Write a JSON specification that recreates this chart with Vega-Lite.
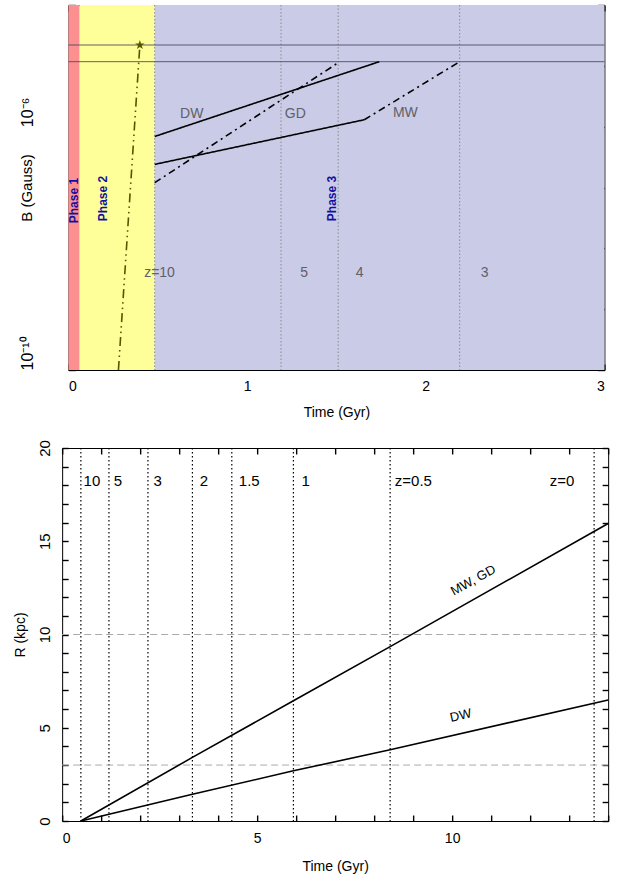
{
  "$schema": "https://vega.github.io/schema/vega-lite/v6.json",
  "padding": {"left": 12, "top": 3, "right": 5, "bottom": 5},
  "config": {
    "view": {"stroke": "black", "strokeWidth": 1},
    "font": "Liberation Sans",
    "axis": {"domain": false, "grid": false, "ticks": true, "zindex": 1, "tickColor": "black", "tickOpacity": 1, "tickWidth": 1.4, "tickSize": 6, "offset": -6, "labelColor": "black", "titleColor": "black", "labelFont": "Liberation Sans", "titleFont": "Liberation Sans", "labelFontSize": 14, "titleFontSize": 14, "titleFontWeight": "normal"}
  },
  "datasets": {
    "bands": [
      {"x": 0, "x2": 0.063, "phase": "p1"},
      {"x": 0.063, "x2": 0.483, "phase": "p2"},
      {"x": 0.483, "x2": 3, "phase": "p3"}
    ],
    "zlinesTop": [{"t": 0.483}, {"t": 1.19}, {"t": 1.51}, {"t": 2.19}],
    "hlinesTop": [{"b": 2.2e-5}, {"b": 1.17e-5}],
    "linesTop": [
      {"t": 0.483, "b": 6.9e-7, "seg": "DW", "series": "gal", "style": "solid"},
      {"t": 1.74, "b": 1.17e-5, "seg": "DW", "series": "gal", "style": "solid"},
      {"t": 0.483, "b": 2.4e-7, "seg": "MW1", "series": "gal", "style": "solid"},
      {"t": 1.656, "b": 1.3e-6, "seg": "MW1", "series": "gal", "style": "solid"},
      {"t": 1.656, "b": 1.3e-6, "seg": "MW2", "series": "gal", "style": "dashdot"},
      {"t": 2.19, "b": 1.17e-5, "seg": "MW2", "series": "gal", "style": "dashdot"},
      {"t": 0.483, "b": 1.2e-7, "seg": "GD", "series": "gal", "style": "dashdot"},
      {"t": 1.505, "b": 1.1e-5, "seg": "GD", "series": "gal", "style": "dashdot"},
      {"t": 0.28, "b": 1e-10, "seg": "P2", "series": "seed", "style": "dashdotdot"},
      {"t": 0.40, "b": 2.2e-5, "seg": "P2", "series": "seed", "style": "dashdotdot"}
    ],
    "starTop": [{"t": 0.40, "b": 2.2e-5}],
    "grayTextTop": [
      {"t": 0.69, "b": 1.63e-6, "label": "DW", "align": "center"},
      {"t": 1.27, "b": 1.63e-6, "label": "GD", "align": "center"},
      {"t": 1.886, "b": 1.7e-6, "label": "MW", "align": "center"},
      {"t": 0.51, "b": 3.9e-9, "label": "z=10", "align": "left"},
      {"t": 1.32, "b": 3.9e-9, "label": "5", "align": "center"},
      {"t": 1.63, "b": 3.9e-9, "label": "4", "align": "center"},
      {"t": 2.33, "b": 3.9e-9, "label": "3", "align": "center"}
    ],
    "phaseText": [
      {"t": 0.03, "b": 6.1e-8, "label": "Phase 1"},
      {"t": 0.196, "b": 6.6e-8, "label": "Phase 2"},
      {"t": 1.477, "b": 6.6e-8, "label": "Phase 3"}
    ],
    "zlinesBot": [{"t": 0.48}, {"t": 1.2}, {"t": 2.2}, {"t": 3.34}, {"t": 4.35}, {"t": 5.93}, {"t": 8.41}, {"t": 13.64}],
    "hlinesBot": [{"r": 3}, {"r": 10}],
    "linesBot": [
      {"t": 0.48, "r": 0, "gal": "MW, GD"},
      {"t": 3.34, "r": 3.41, "gal": "MW, GD"},
      {"t": 5.93, "r": 6.45, "gal": "MW, GD"},
      {"t": 8.41, "r": 9.35, "gal": "MW, GD"},
      {"t": 14, "r": 15.95, "gal": "MW, GD"},
      {"t": 0.48, "r": 0, "gal": "DW"},
      {"t": 3.34, "r": 1.43, "gal": "DW"},
      {"t": 5.93, "r": 2.69, "gal": "DW"},
      {"t": 8.41, "r": 3.82, "gal": "DW"},
      {"t": 14, "r": 6.49, "gal": "DW"}
    ],
    "zTextBot": [
      {"t": 0.55, "label": "10"},
      {"t": 1.32, "label": "5"},
      {"t": 2.34, "label": "3"},
      {"t": 3.53, "label": "2"},
      {"t": 4.53, "label": "1.5"},
      {"t": 6.14, "label": "1"},
      {"t": 8.53, "label": "z=0.5"},
      {"t": 12.5, "label": "z=0"}
    ],
    "galTextBot": [
      {"t": 10.54, "r": 12.9, "label": "MW, GD", "angle": -29},
      {"t": 10.22, "r": 5.65, "label": "DW", "angle": -13}
    ]
  },
  "vconcat": [
    {
      "width": 536,
      "height": 365,
      "resolve": {"axis": {"x": "independent", "y": "independent"}},
      "layer": [
        {
          "data": {"name": "bands"},
          "mark": {"type": "rect"},
          "encoding": {
            "x": {"field": "x", "type": "quantitative", "scale": {"domain": [0, 3], "nice": false}, "axis": null},
            "x2": {"field": "x2"},
            "y": {"datum": 1e-10, "type": "quantitative", "scale": {"type": "log", "domain": [1e-10, 1e-4], "nice": false}, "axis": null},
            "y2": {"datum": 1e-4},
            "fill": {"field": "phase", "type": "nominal", "scale": {"domain": ["p1", "p2", "p3"], "range": ["#fc8f8f", "#ffff99", "#cacbe7"]}, "legend": null}
          }
        },
        {
          "data": {"name": "zlinesTop"},
          "mark": {"type": "rule", "color": "#8a8a8a", "strokeDash": [1.5, 2], "strokeWidth": 1},
          "encoding": {
            "x": {"field": "t", "type": "quantitative", "axis": null}
          }
        },
        {
          "data": {"name": "hlinesTop"},
          "mark": {"type": "rule", "color": "#4d4d66", "strokeWidth": 0.9},
          "encoding": {
            "y": {"field": "b", "type": "quantitative", "axis": {"orient": "right", "values": [1e-10, 1e-9, 1e-8, 1e-7, 1e-6, 1e-5, 1e-4], "labels": false, "ticks": true, "tickSize": 7, "offset": -7, "title": null}}
          }
        },
        {
          "data": {"name": "linesTop"},
          "mark": {"type": "line", "strokeWidth": 1.6},
          "encoding": {
            "x": {"field": "t", "type": "quantitative", "axis": {"orient": "bottom", "values": [0, 0.2, 0.4, 0.6, 0.8, 1, 1.2, 1.4, 1.6, 1.8, 2, 2.2, 2.4, 2.6, 2.8, 3], "labelExpr": "datum.value == 0 || datum.value == 1 || datum.value == 2 || datum.value == 3 ? format(datum.value, 'd') : ''", "ticks": true, "labelPadding": 9, "title": "Time (Gyr)", "titlePadding": 12}},
            "y": {"field": "b", "type": "quantitative", "axis": {"orient": "left", "values": [1e-10, 1e-9, 1e-8, 1e-7, 1e-6, 1e-5, 1e-4], "labelExpr": "datum.value == 1e-6 ? '10⁻⁶' : (datum.value == 1e-10 ? '10⁻¹⁰' : '')", "labelAngle": -90, "labelAlign": "left", "labelBaseline": "bottom", "ticks": true, "tickSize": 7, "offset": -7, "labelPadding": 33, "title": "B (Gauss)", "titlePadding": -15, "labelFontSize": 16, "titleFontSize": 15}},
            "detail": {"field": "seg"},
            "stroke": {"field": "series", "type": "nominal", "scale": {"domain": ["gal", "seed"], "range": ["black", "#555500"]}, "legend": null},
            "strokeDash": {"field": "style", "type": "nominal", "scale": {"domain": ["solid", "dashdot", "dashdotdot"], "range": [[1, 0], [7, 4, 2, 4], [9, 4, 1.5, 4, 1.5, 4]]}, "legend": null}
          }
        },
        {
          "data": {"name": "starTop"},
          "mark": {"type": "point", "filled": true, "color": "#555500", "size": 100, "shape": "M0,-1L0.2245,-0.309L0.951,-0.309L0.363,0.118L0.588,0.809L0,0.382L-0.588,0.809L-0.363,0.118L-0.951,-0.309L-0.2245,-0.309Z", "opacity": 1},
          "encoding": {
            "x": {"field": "t", "type": "quantitative", "axis": {"orient": "top", "values": [0, 0.2, 0.4, 0.6, 0.8, 1, 1.2, 1.4, 1.6, 1.8, 2, 2.2, 2.4, 2.6, 2.8, 3], "labels": false, "ticks": true, "title": null}},
            "y": {"field": "b", "type": "quantitative", "axis": null}
          }
        },
        {
          "data": {"name": "grayTextTop"},
          "mark": {"type": "text", "color": "#606068", "fontSize": 14, "baseline": "middle"},
          "encoding": {
            "x": {"field": "t", "type": "quantitative", "axis": null},
            "y": {"field": "b", "type": "quantitative", "axis": null},
            "text": {"field": "label"},
            "align": {"field": "align"}
          }
        },
        {
          "data": {"name": "phaseText"},
          "mark": {"type": "text", "color": "#1010a0", "fontSize": 12, "fontWeight": "bold", "angle": -90, "align": "center", "baseline": "middle", "font": "Liberation Sans"},
          "encoding": {
            "x": {"field": "t", "type": "quantitative", "axis": null},
            "y": {"field": "b", "type": "quantitative", "axis": null},
            "text": {"field": "label"}
          }
        }
      ]
    },
    {
      "width": 546,
      "height": 373,
      "resolve": {"axis": {"x": "independent", "y": "independent"}},
      "layer": [
        {
          "data": {"name": "zlinesBot"},
          "mark": {"type": "rule", "color": "black", "strokeDash": [1.5, 2.5], "strokeWidth": 1.2},
          "encoding": {
            "x": {"field": "t", "type": "quantitative", "scale": {"domain": [0, 14], "nice": false}, "axis": {"orient": "top", "values": [0,1,2,3,4,5,6,7,8,9,10,11,12,13,14], "labels": false, "ticks": true, "title": null}}
          }
        },
        {
          "data": {"name": "hlinesBot"},
          "mark": {"type": "rule", "color": "#aaaaaa", "strokeDash": [7, 4], "strokeWidth": 1},
          "encoding": {
            "y": {"field": "r", "type": "quantitative", "scale": {"domain": [0, 20], "nice": false}, "axis": {"orient": "right", "values": [0,1,2,3,4,5,6,7,8,9,10,11,12,13,14,15,16,17,18,19,20], "labels": false, "ticks": true, "title": null}}
          }
        },
        {
          "data": {"name": "linesBot"},
          "mark": {"type": "line", "color": "black", "strokeWidth": 1.6},
          "encoding": {
            "x": {"field": "t", "type": "quantitative", "axis": {"orient": "bottom", "values": [0,1,2,3,4,5,6,7,8,9,10,11,12,13,14], "labelExpr": "datum.value == 0 || datum.value == 5 || datum.value == 10 ? format(datum.value, 'd') : ''", "ticks": true, "labelPadding": 10, "title": "Time (Gyr)", "titlePadding": 14}},
            "y": {"field": "r", "type": "quantitative", "axis": {"orient": "left", "values": [0,1,2,3,4,5,6,7,8,9,10,11,12,13,14,15,16,17,18,19,20], "labelExpr": "datum.value % 5 === 0 ? format(datum.value, 'd') : ''", "labelAngle": -90, "labelAlign": "center", "labelBaseline": "bottom", "ticks": true, "labelPadding": 10, "title": "R (kpc)", "titlePadding": 10, "labelFontSize": 15}},
            "detail": {"field": "gal"}
          }
        },
        {
          "data": {"name": "zTextBot"},
          "mark": {"type": "text", "color": "black", "fontSize": 15, "align": "left", "baseline": "middle"},
          "encoding": {
            "x": {"field": "t", "type": "quantitative", "axis": null},
            "y": {"datum": 18.25, "type": "quantitative", "axis": null},
            "text": {"field": "label"}
          }
        },
        {
          "data": {"name": "galTextBot"},
          "mark": {"type": "text", "color": "black", "fontSize": 13, "align": "center", "baseline": "middle"},
          "encoding": {
            "x": {"field": "t", "type": "quantitative", "axis": null},
            "y": {"field": "r", "type": "quantitative", "axis": null},
            "text": {"field": "label"},
            "angle": {"field": "angle", "type": "quantitative", "scale": null}
          }
        }
      ]
    }
  ],
  "spacing": 19,
  "center": true
}
